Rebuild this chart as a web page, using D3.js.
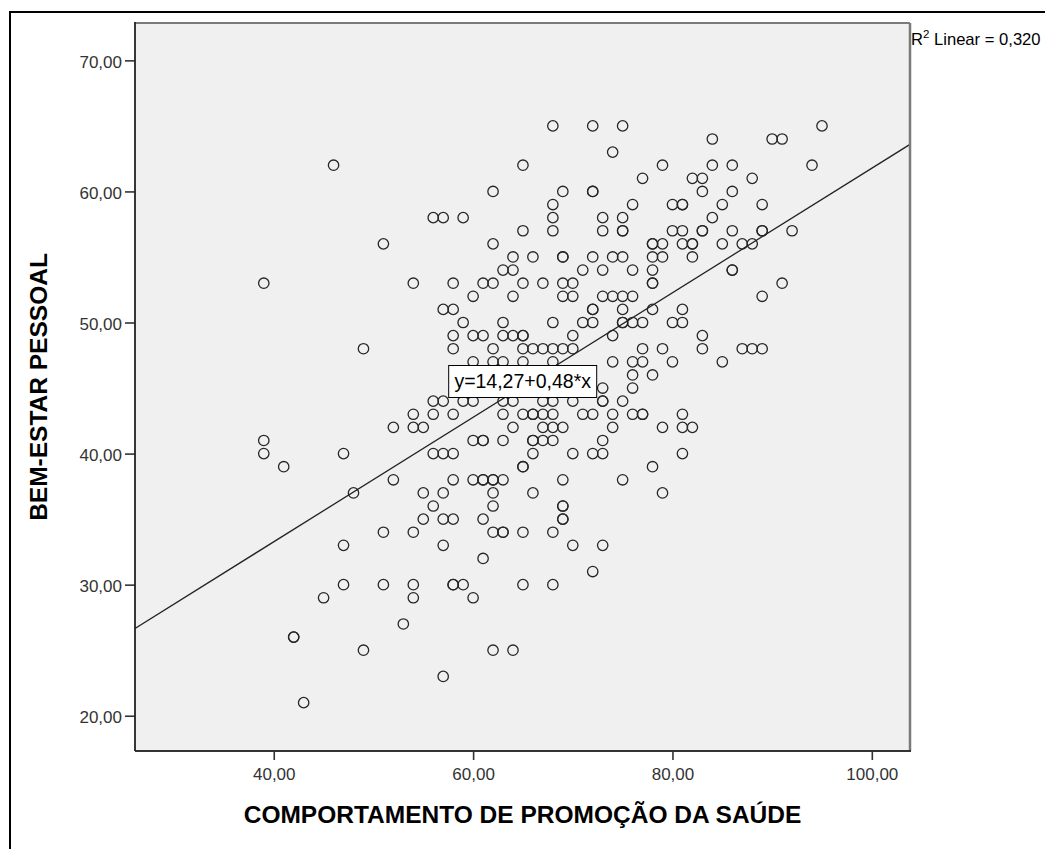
<!DOCTYPE html>
<html><head><meta charset="utf-8">
<script src="https://cdn.jsdelivr.net/npm/d3@7"></script>
<style>body{margin:0;background:#fff;overflow:hidden}</style>
</head><body>
<svg id="chart" width="1045" height="849"></svg>
<script>
// ---- data ----
const xTitle = "COMPORTAMENTO DE PROMOÇÃO DA SAÚDE";
const yTitle = "BEM-ESTAR PESSOAL";
const xTicks = [40, 60, 80, 100];
const yTicks = [20, 30, 40, 50, 60, 70];
// x: COMPORTAMENTO DE PROMOÇÃO DA SAÚDE, one row per y level
const promocaoSaude = [
  68,72,75,95,
  84,90,91,
  74,
  46,65,79,84,86,94,
  77,82,83,88,
  62,69,72,72,83,86,
  68,76,80,81,81,85,89,
  56,57,59,68,73,75,84,
  65,68,73,75,75,80,81,83,83,86,89,89,92,
  51,62,78,78,79,81,82,82,85,87,88,
  64,66,69,69,72,74,75,78,79,82,
  63,64,71,73,76,78,86,86,
  39,54,58,61,62,65,67,69,70,78,78,91,
  60,64,69,70,73,74,75,76,89,
  57,58,72,72,75,78,81,
  59,63,68,71,72,75,75,76,77,80,81,
  58,60,61,63,64,65,65,70,74,83,
  49,58,62,65,66,67,68,69,70,77,79,83,87,88,89,
  60,62,63,65,68,74,76,77,80,85,
  76,78,
  73,76,
  56,57,59,60,63,64,67,68,70,73,73,75,
  54,56,58,63,65,66,66,67,68,71,72,74,76,77,77,81,
  52,54,55,64,67,68,69,74,79,81,82,
  39,60,61,61,63,66,66,67,68,73,
  39,47,56,57,58,66,70,72,73,81,
  41,65,65,78,
  52,58,60,61,61,62,62,63,69,75,
  48,55,57,62,66,79,
  56,62,69,69,
  55,57,58,61,69,69,
  51,54,62,63,63,65,68,
  47,57,70,73,
  61,
  72,
  47,51,54,58,58,59,65,68,
  45,54,60,
  53,
  42,42,
  49,62,64,
  57,
  43
];
// y: BEM-ESTAR PESSOAL, same order
const bemEstar = [
  65,65,65,65,
  64,64,64,
  63,
  62,62,62,62,62,62,
  61,61,61,61,
  60,60,60,60,60,60,
  59,59,59,59,59,59,59,
  58,58,58,58,58,58,58,
  57,57,57,57,57,57,57,57,57,57,57,57,57,
  56,56,56,56,56,56,56,56,56,56,56,
  55,55,55,55,55,55,55,55,55,55,
  54,54,54,54,54,54,54,54,
  53,53,53,53,53,53,53,53,53,53,53,53,
  52,52,52,52,52,52,52,52,52,
  51,51,51,51,51,51,51,
  50,50,50,50,50,50,50,50,50,50,50,
  49,49,49,49,49,49,49,49,49,49,
  48,48,48,48,48,48,48,48,48,48,48,48,48,48,48,
  47,47,47,47,47,47,47,47,47,47,
  46,46,
  45,45,
  44,44,44,44,44,44,44,44,44,44,44,44,
  43,43,43,43,43,43,43,43,43,43,43,43,43,43,43,43,
  42,42,42,42,42,42,42,42,42,42,42,
  41,41,41,41,41,41,41,41,41,41,
  40,40,40,40,40,40,40,40,40,40,
  39,39,39,39,
  38,38,38,38,38,38,38,38,38,38,
  37,37,37,37,37,37,
  36,36,36,36,
  35,35,35,35,35,35,
  34,34,34,34,34,34,34,
  33,33,33,33,
  32,
  31,
  30,30,30,30,30,30,30,30,
  29,29,29,
  27,
  26,26,
  25,25,25,
  23,
  21
];
// linear fit line
const fitIntercept = [14.27];
const fitSlope = [0.475];
const fitLabel = ["y=14,27+0,48*x"];
const r2Label = ["0,320"];

// ---- drawing ----
const svg = d3.select("#chart");
const FONT = "'Liberation Sans', Arial, sans-serif";
const P = {l:135, t:23, r:910, b:751};
const x = d3.scaleLinear().domain([26.08, 103.83]).range([P.l, P.r]);
const y = d3.scaleLinear().domain([17.31, 72.85]).range([P.b, P.t]);
const loc = d3.formatLocale({decimal: ",", thousands: ".", grouping: [3], currency: ["", ""]});
const fmt = loc.format(".2f");

svg.append("rect").attr("width",1045).attr("height",849).attr("fill","#fff");
// outer frame
svg.append("rect").attr("x",10).attr("y",12).attr("width",1200).attr("height",1000)
  .attr("fill","none").attr("stroke","#000").attr("stroke-width",2);

// plot background
svg.append("rect").attr("x",P.l).attr("y",P.t).attr("width",P.r-P.l).attr("height",P.b-P.t)
  .attr("fill","#f0f0f0");

svg.append("clipPath").attr("id","clip").append("rect")
  .attr("x",P.l).attr("y",P.t).attr("width",P.r-P.l).attr("height",P.b-P.t);

// points
const pts = promocaoSaude.map((v,i)=>({x:v, y:bemEstar[i]}));
svg.append("g").attr("clip-path","url(#clip)").selectAll("circle").data(pts).join("circle")
  .attr("cx",d=>x(d.x)).attr("cy",d=>y(d.y)).attr("r",5.2)
  .attr("fill","none").attr("stroke","#262626").attr("stroke-width",1.3);

// fit line
const xd = x.domain();
svg.append("line").attr("clip-path","url(#clip)")
  .attr("x1",x(xd[0])).attr("y1",y(fitIntercept[0]+fitSlope[0]*xd[0]))
  .attr("x2",x(xd[1])).attr("y2",y(fitIntercept[0]+fitSlope[0]*xd[1]))
  .attr("stroke","#222").attr("stroke-width",1.3);

// fit label box
const lx = x(57.55), ly = y(45.5);
const lg = svg.append("g");
lg.append("rect").attr("x",lx).attr("y",ly-16).attr("width",148).attr("height",32)
  .attr("fill","#fff").attr("stroke","#000").attr("stroke-width",1);
lg.append("text").attr("x",lx+74).attr("y",ly+7).attr("text-anchor","middle")
  .attr("font-family",FONT).attr("font-size",19.5).attr("fill","#000").text(fitLabel[0]);

// axes
const xAxis = d3.axisBottom(x).tickValues(xTicks).tickFormat(fmt).tickSize(9).tickPadding(8);
const gx = svg.append("g").attr("transform",`translate(0,${P.b})`).call(xAxis);
const yAxis = d3.axisLeft(y).tickValues(yTicks).tickFormat(fmt).tickSize(10).tickPadding(3);
const gy = svg.append("g").attr("transform",`translate(${P.l},0)`).call(yAxis);
[gx,gy].forEach(g=>{
  g.select(".domain").remove();
  g.selectAll(".tick line").attr("stroke","#333").attr("stroke-width",1.6);
  g.selectAll(".tick text").attr("font-family",FONT).attr("font-size",17).attr("fill","#333");
});
gy.selectAll(".tick text").attr("dy","0.42em");

// plot frame
svg.append("line").attr("x1",P.l).attr("x2",P.r).attr("y1",P.t).attr("y2",P.t)
  .attr("stroke","#7a7a7a").attr("stroke-width",2);
svg.append("line").attr("x1",P.r).attr("x2",P.r).attr("y1",P.t).attr("y2",P.b)
  .attr("stroke","#7a7a7a").attr("stroke-width",2.5);
svg.append("line").attr("x1",P.l).attr("x2",P.r+1).attr("y1",P.b).attr("y2",P.b)
  .attr("stroke","#333").attr("stroke-width",1.8);
svg.append("line").attr("x1",P.l).attr("x2",P.l).attr("y1",P.t-1).attr("y2",P.b)
  .attr("stroke","#222").attr("stroke-width",1.8);

// titles
svg.append("text").attr("x",(P.l+P.r)/2).attr("y",822.5).attr("text-anchor","middle")
  .attr("font-family",FONT).attr("font-weight","bold").attr("font-size",24.5).attr("fill","#000")
  .text(xTitle);
svg.append("text").attr("transform",`translate(47,${(P.t+P.b)/2}) rotate(-90)`).attr("text-anchor","middle")
  .attr("font-family",FONT).attr("font-weight","bold").attr("font-size",24.5).attr("fill","#000")
  .text(yTitle);

// R² annotation
const rt = svg.append("text").attr("x",911).attr("y",45).attr("font-family",FONT)
  .attr("font-size",16.6).attr("fill","#000");
rt.append("tspan").text("R");
rt.append("tspan").attr("font-size",11.5).attr("dy",-7).text("2");
rt.append("tspan").attr("dy",7).text(" Linear = " + r2Label[0]);
</script>
</body></html>
